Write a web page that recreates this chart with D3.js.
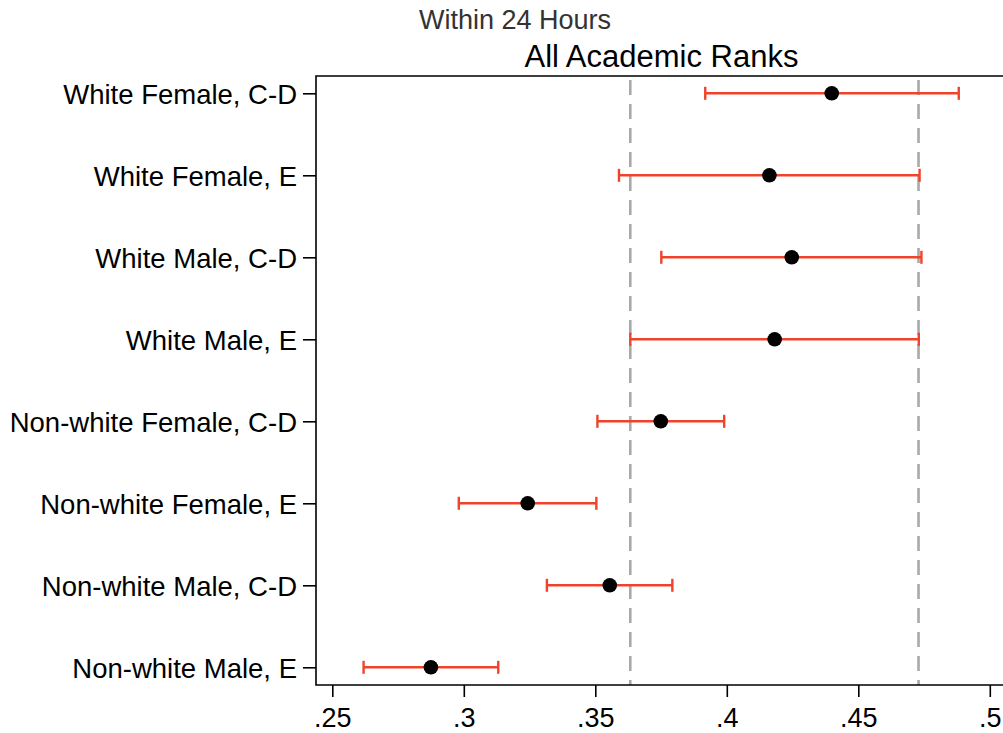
<!DOCTYPE html>
<html>
<head>
<meta charset="utf-8">
<script src="https://cdn.jsdelivr.net/npm/d3@7/dist/d3.min.js"></script>
<style>
  html, body { margin: 0; padding: 0; background: #fff; }
  svg { display: block; font-family: "Liberation Sans", Arial, sans-serif; }
</style>
</head>
<body>
<svg id="chart" width="1003" height="733"></svg>
<script>
// ---- data ----
const categories = [
  "White Female, C-D",
  "White Female, E",
  "White Male, C-D",
  "White Male, E",
  "Non-white Female, C-D",
  "Non-white Female, E",
  "Non-white Male, C-D",
  "Non-white Male, E"
];
const estimates = [0.4399, 0.4162, 0.4247, 0.4182, 0.3749, 0.3243, 0.3555, 0.2875];
const lowerCI   = [0.3918, 0.3590, 0.3751, 0.3633, 0.3508, 0.2981, 0.3316, 0.2619];
const upperCI   = [0.4882, 0.4733, 0.4740, 0.4730, 0.3990, 0.3504, 0.3793, 0.3131];
const refLines  = [0.3633, 0.4729];
const xTicks    = [0.25, 0.30, 0.35, 0.40, 0.45, 0.50];
const xTickLabels = [".25", ".3", ".35", ".4", ".45", ".5"];
const superTitle = "Within 24 Hours";
const title = "All Academic Ranks";

// ---- layout ----
const svg = d3.select("#chart");
const frame = { left: 316, top: 76, right: 1012, bottom: 685 };

const x = d3.scaleLinear().domain([0.25, 0.5]).range([332.3, 989.8]);
const y = d3.scalePoint().domain(categories).range([93.3, 667.3]);

const rows = categories.map((c, i) => ({ c, est: estimates[i], lo: lowerCI[i], hi: upperCI[i] }));

// titles
svg.append("text")
  .attr("x", 515).attr("y", 29)
  .attr("text-anchor", "middle")
  .attr("font-size", 27)
  .attr("fill", "#333")
  .text(superTitle);
svg.append("text")
  .attr("x", 661.5).attr("y", 67)
  .attr("text-anchor", "middle")
  .attr("font-size", 31)
  .attr("fill", "#000")
  .text(title);

// reference lines
svg.append("g").selectAll("line").data(refLines).join("line")
  .attr("x1", d => x(d)).attr("x2", d => x(d))
  .attr("y1", frame.top).attr("y2", frame.bottom)
  .attr("stroke", "#a9a9a9")
  .attr("stroke-width", 2.6)
  .attr("stroke-dasharray", "15,9")
  .attr("stroke-dashoffset", -4);

// error bars
const eb = svg.append("g").attr("stroke", "#f0432b").attr("stroke-width", 2.4).attr("fill", "none");
eb.selectAll("line.bar").data(rows).join("line").attr("class", "bar")
  .attr("x1", d => x(d.lo)).attr("x2", d => x(d.hi))
  .attr("y1", d => y(d.c)).attr("y2", d => y(d.c));
eb.selectAll("line.capl").data(rows).join("line").attr("class", "capl")
  .attr("x1", d => x(d.lo)).attr("x2", d => x(d.lo))
  .attr("y1", d => y(d.c) - 6.5).attr("y2", d => y(d.c) + 6.5);
eb.selectAll("line.caph").data(rows).join("line").attr("class", "caph")
  .attr("x1", d => x(d.hi)).attr("x2", d => x(d.hi))
  .attr("y1", d => y(d.c) - 6.5).attr("y2", d => y(d.c) + 6.5);

// points
svg.append("g").selectAll("circle").data(rows).join("circle")
  .attr("cx", d => x(d.est)).attr("cy", d => y(d.c))
  .attr("r", 7.3).attr("fill", "#000");

// frame (left, top, bottom)
svg.append("path")
  .attr("d", `M${frame.right},${frame.top}H${frame.left}V${frame.bottom}H${frame.right}`)
  .attr("fill", "none").attr("stroke", "#000").attr("stroke-width", 1.6);

// x axis
const xAxis = d3.axisBottom(x).tickValues(xTicks)
  .tickFormat((d, i) => xTickLabels[i]).tickSize(12).tickPadding(11);
const gx = svg.append("g").attr("transform", `translate(0,${frame.bottom})`).call(xAxis);
gx.select(".domain").remove();
gx.selectAll(".tick line").attr("stroke", "#000").attr("stroke-width", 1.6);
gx.selectAll(".tick text").attr("font-size", 27).attr("fill", "#000")
  .attr("font-family", "Liberation Sans, Arial, sans-serif");

// y axis
const yAxis = d3.axisLeft(y).tickSize(13).tickPadding(6);
const gy = svg.append("g").attr("transform", `translate(${frame.left},0)`).call(yAxis);
gy.select(".domain").remove();
gy.selectAll(".tick line").attr("stroke", "#000").attr("stroke-width", 1.6);
gy.selectAll(".tick text").attr("font-size", 27.5).attr("fill", "#000")
  .attr("font-family", "Liberation Sans, Arial, sans-serif")
  .attr("dy", "0.36em");
</script>
</body>
</html>
